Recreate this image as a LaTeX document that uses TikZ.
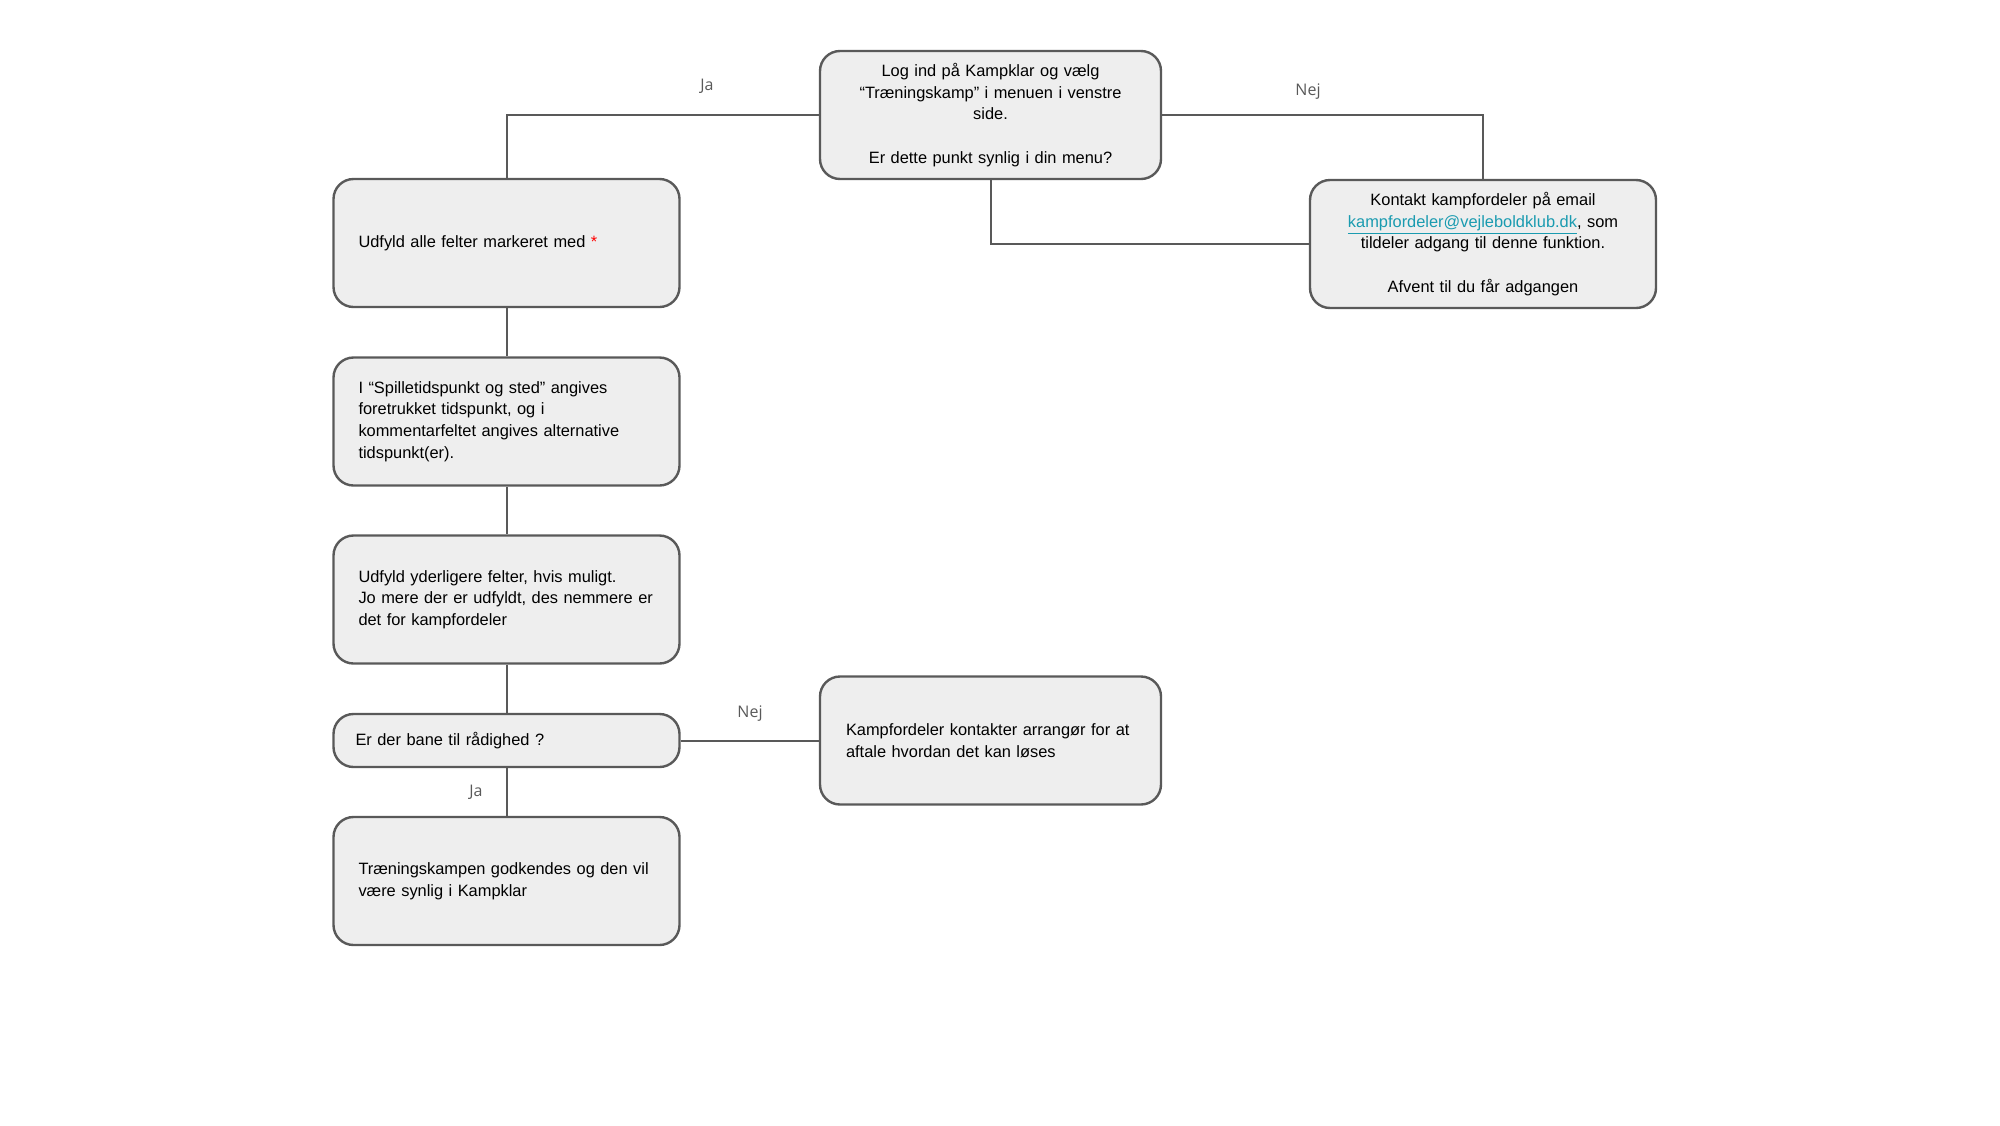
\documentclass[tikz,border=0pt]{standalone}
\usepackage{fontspec}
\setmainfont{Liberation Sans}
\newfontfamily\tagfont{Open Sans}
\usepackage{xcolor}
\usetikzlibrary{positioning}
\definecolor{boxgray}{HTML}{EEEEEE}
\definecolor{linegray}{HTML}{595959}
\definecolor{linkteal}{HTML}{1A9BB0}
\tikzset{
  stepbox/.style={draw=linegray,fill=boxgray,line width=1.2pt,rounded corners=10pt,
    minimum width=173pt,minimum height=64pt,inner xsep=12.5pt,text width=148pt,
    font=\fontsize{8.2}{10.8}\selectfont},
  leftbox/.style={stepbox,align=left},
  centerbox/.style={stepbox,align=center},
  narrowbox/.style={minimum width=170.5pt,inner xsep=13pt,text width=144.5pt},
  flowline/.style={draw=linegray,line width=1pt},
  answerlabel/.style={font=\tagfont\fontsize{8}{9}\selectfont,text=linegray}
}

\begin{document}
\begin{tikzpicture}[x=0.5pt,y=-0.5pt]
  \useasboundingbox (0,0) rectangle (2000,1125);

  % Start: adgang til Træningskamp i menuen
  \node[centerbox,narrowbox] (login) at (990.5,115)
    {Log ind på Kampklar og vælg\\“Træningskamp” i menuen i venstre\\side.\\[10.8pt]Er dette punkt synlig i din menu?};
  \node[centerbox] (contact) at (1483,244)
    {Kontakt kampfordeler på email\\\textcolor{linkteal}{\underline{kampfordeler@vejleboldklub.dk}}, som\\tildeler adgang til denne funktion.\\[10.8pt]Afvent til du får adgangen};

  % Venstre kolonne: udfyldning af formularen
  \node[leftbox] (fields) at (506.5,243) {Udfyld alle felter markeret med \textcolor{red}{*}};
  \node[leftbox] (times) at (506.5,421.5)
    {I “Spilletidspunkt og sted” angives\\foretrukket tidspunkt, og i\\kommentarfeltet angives alternative\\tidspunkt(er).};
  \node[leftbox] (extra) at (506.5,599.5)
    {Udfyld yderligere felter, hvis muligt.\\\mbox{Jo mere der er udfyldt, des nemmere er}\\det for kampfordeler};
  \node[leftbox,minimum height=26.5pt,inner xsep=11pt,text width=151pt] (pitch) at (506.5,740.5)
    {Er der bane til rådighed ?};
  \node[leftbox] (approved) at (506.5,881)
    {Træningskampen godkendes og den vil\\være synlig i Kampklar};
  \node[leftbox,narrowbox] (arrange) at (990.5,740.5)
    {Kampfordeler kontakter arrangør for at\\aftale hvordan det kan løses};

  % Forbindelser
  \draw[flowline] (login.west) -| (fields.north);
  \draw[flowline] (login.east) -| (contact.north);
  \draw[flowline] (contact.west) -| (login.south);
  \draw[flowline] (fields.south) -- (times.north);
  \draw[flowline] (times.south) -- (extra.north);
  \draw[flowline] (extra.south) -- (pitch.north);
  \draw[flowline] (pitch.east) -- (arrange.west);
  \draw[flowline] (pitch.south) -- (approved.north);

  % Svar
  \node[answerlabel] (yestop) at (707,86) {Ja};
  \node[answerlabel] (notop) at (1308,92) {Nej};
  \node[answerlabel] (nopitch) at (750,714) {Nej};
  \node[answerlabel] (yespitch) at (476,792) {Ja};
\end{tikzpicture}
\end{document}
